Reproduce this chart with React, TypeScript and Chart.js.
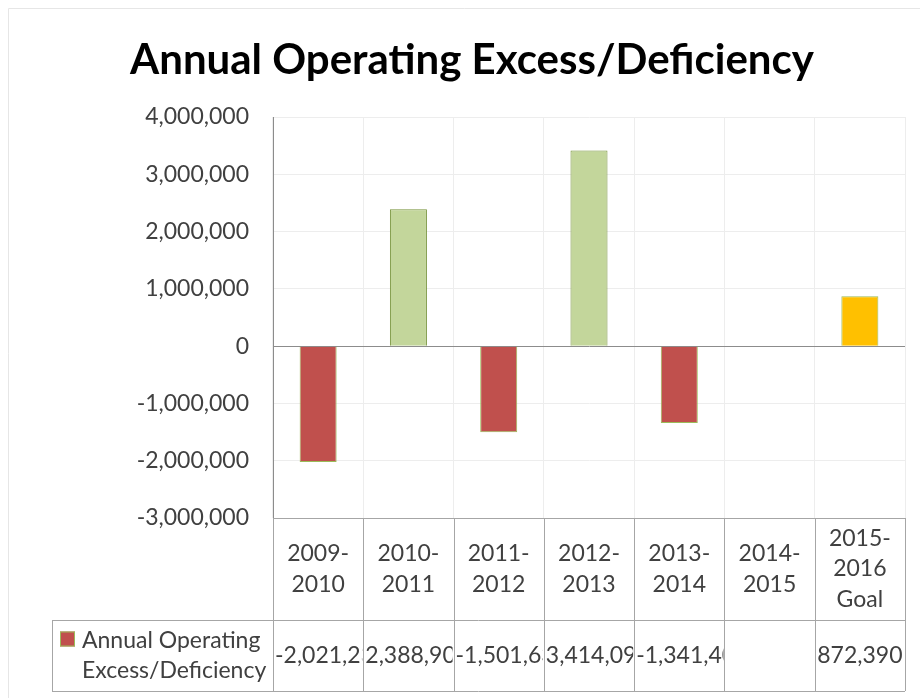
import React, { useEffect, useRef } from "react";
import { Chart, registerables } from "chart.js";

Chart.register(...registerables);

const TITLE = "Annual Operating Excess/Deficiency";
const SERIES_NAME = ["Annual Operating", "Excess/Deficiency"];
const categories: string[][] = [
  ["2009-", "2010"],
  ["2010-", "2011"],
  ["2011-", "2012"],
  ["2012-", "2013"],
  ["2013-", "2014"],
  ["2014-", "2015"],
  ["2015-", "2016", "Goal"],
];
const values: (number | null)[] = [-2021230, 2388900, -1501630, 3414090, -1341400, null, 872390];
const fillColors = ["#C0504D", "#C3D69B", "#C0504D", "#C3D69B", "#C0504D", "#C3D69B", "#FFC000"];
const borderColors = ["#9BBB59", "#77933C", "#9BBB59", "#77933C", "#9BBB59", "#77933C", "#9BBB59"];
const yMin = -3000000;
const yMax = 4000000;
const yStep = 1000000;

const FONT = "Lato, 'Open Sans', sans-serif";
const FS = 23;
const TEXT = "#404040";
const TABLE_LINE = "#A6A6A6";

const fmt = (v: number) => v.toLocaleString("en-US");

const tablePlugin = {
  id: "tablePlugin",
  afterDraw(chart: any) {
    const ctx = chart.ctx as CanvasRenderingContext2D;
    const area = chart.chartArea;
    const xs = chart.scales.x;
    const n = categories.length;
    const step = (area.right - area.left) / n;
    const bounds: number[] = [];
    for (let i = 0; i <= n; i++) bounds.push(area.left + step * i);
    const top = area.bottom;
    const mid = top + 102;
    const bot = top + 173;
    const legLeft = 52;

    ctx.save();
    // outer chart border (left/top)
    ctx.strokeStyle = "#E6E6E6";
    ctx.lineWidth = 1;
    ctx.beginPath();
    ctx.moveTo(8.5, 698);
    ctx.lineTo(8.5, 8.5);
    ctx.lineTo(920, 8.5);
    ctx.stroke();

    // title
    ctx.fillStyle = "#000000";
    let fs = 40;
    ctx.font = `bold ${fs}px ${FONT}`;
    const w = ctx.measureText(TITLE).width;
    fs = Math.round((fs * 686) / w);
    ctx.font = `bold ${fs}px ${FONT}`;
    ctx.textAlign = "center";
    ctx.textBaseline = "alphabetic";
    ctx.fillText(TITLE, 472, 74);

    // table lines
    ctx.strokeStyle = TABLE_LINE;
    ctx.lineWidth = 1;
    ctx.beginPath();
    ctx.moveTo(area.left, Math.round(top) + 0.5);
    ctx.lineTo(area.right, Math.round(top) + 0.5);
    ctx.moveTo(legLeft, Math.round(mid) + 0.5);
    ctx.lineTo(area.right, Math.round(mid) + 0.5);
    ctx.moveTo(legLeft, Math.round(bot) + 0.5);
    ctx.lineTo(area.right, Math.round(bot) + 0.5);
    ctx.moveTo(legLeft + 0.5, Math.round(mid));
    ctx.lineTo(legLeft + 0.5, Math.round(bot));
    for (const b of bounds) {
      ctx.moveTo(Math.round(b) + 0.5, Math.round(top));
      ctx.lineTo(Math.round(b) + 0.5, Math.round(bot));
    }
    ctx.stroke();

    // header labels
    ctx.fillStyle = TEXT;
    ctx.font = `${FS}px ${FONT}`;
    ctx.textAlign = "center";
    ctx.textBaseline = "middle";
    const lh = 30.5;
    categories.forEach((lines, i) => {
      const cx = xs.getPixelForValue(i);
      const cy = (top + mid) / 2;
      const start = cy - ((lines.length - 1) * lh) / 2;
      lines.forEach((t, j) => ctx.fillText(t, cx, start + j * lh));
    });

    // values
    const vy = (mid + bot) / 2;
    values.forEach((v, i) => {
      if (v === null) return;
      const s = fmt(v);
      const l = bounds[i] + 1;
      const r = bounds[i + 1] - 1;
      ctx.save();
      ctx.beginPath();
      ctx.rect(l, mid + 1, r - l, bot - mid - 2);
      ctx.clip();
      const tw = ctx.measureText(s).width;
      if (tw > r - l - 2) {
        ctx.textAlign = "left";
        ctx.fillText(s, l + 1, vy);
      } else {
        ctx.textAlign = "center";
        ctx.fillText(s, (l + r) / 2, vy);
      }
      ctx.restore();
    });

    // legend cell
    ctx.fillStyle = "#C0504D";
    ctx.fillRect(60, vy - 24, 15, 15);
    ctx.strokeStyle = "#9BBB59";
    ctx.strokeRect(60.5, vy - 23.5, 14, 14);
    ctx.fillStyle = TEXT;
    ctx.textAlign = "left";
    ctx.fillText(SERIES_NAME[0], 82, vy - 15);
    ctx.fillText(SERIES_NAME[1], 82, vy + 15);
    ctx.restore();
  },
};

export default function App() {
  const ref = useRef<HTMLCanvasElement>(null);
  useEffect(() => {
    if (!ref.current) return;
    const chart = new Chart(ref.current, {
      type: "bar",
      data: {
        labels: categories.map((c) => c.join(" ")),
        datasets: [
          {
            label: SERIES_NAME.join(" "),
            data: values as any,
            backgroundColor: fillColors,
            borderColor: borderColors,
            borderWidth: 1,
            categoryPercentage: 1,
            barPercentage: 0.41,
          },
        ],
      },
      options: {
        animation: false,
        responsive: false,
        maintainAspectRatio: false,
        layout: { padding: { top: 117, right: 15, bottom: 180, left: 0 } },
        plugins: {
          legend: { display: false },
          title: { display: false },
          tooltip: { enabled: false },
        },
        scales: {
          x: {
            grid: { offset: true, color: "#EDEDED", drawTicks: false },
            ticks: { display: false },
            border: { display: false },
          },
          y: {
            min: yMin,
            max: yMax,
            afterFit: (s: any) => {
              s.width = 273;
            },
            ticks: {
              stepSize: yStep,
              color: TEXT,
              padding: 24,
              font: { family: FONT, size: FS },
              callback: (v: any) => fmt(Number(v)),
            },
            grid: {
              color: (c: any) => (c.tick && c.tick.value === 0 ? "#8C8C8C" : "#EDEDED"),
              drawTicks: false,
            },
            border: { color: "#8C8C8C" },
          },
        },
      },
      plugins: [tablePlugin],
    });
    return () => chart.destroy();
  }, []);
  return (
    <div style={{ position: "fixed", left: 0, top: 0, width: 920, height: 698, background: "#fff" }}>
      <canvas ref={ref} width={920} height={698} style={{ display: "block" }} />
    </div>
  );
}
